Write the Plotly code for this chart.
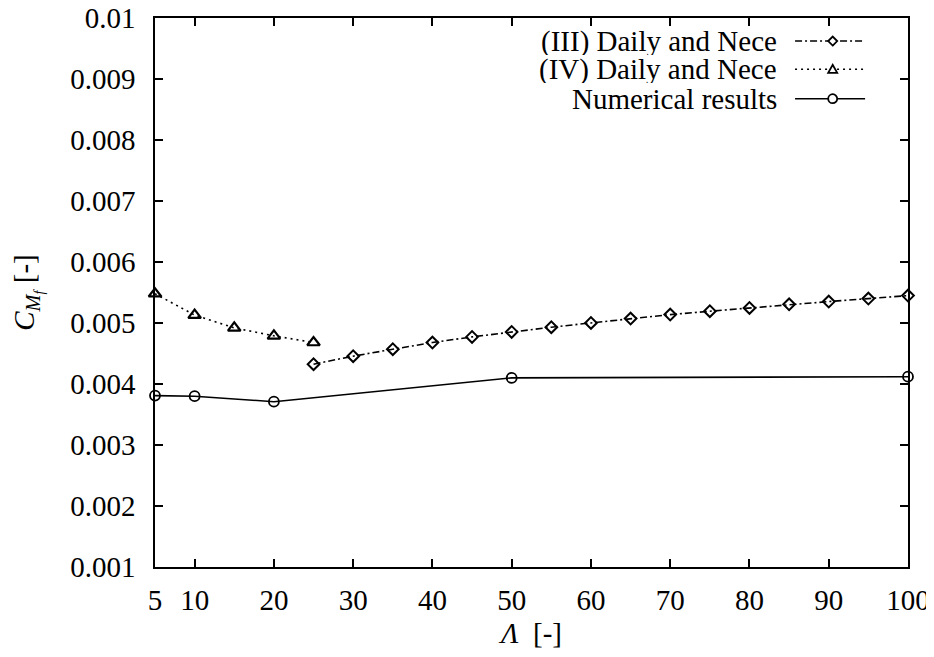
import plotly.graph_objects as go

# ---- data ----
lam_num = [5, 10, 20, 50, 100]
cm_num = [0.00381, 0.00380, 0.00371, 0.00410, 0.00412]

lam_iv = [5, 10, 15, 20, 25]
cm_iv = [0.00548, 0.00513, 0.00492, 0.00479, 0.00468]

lam_iii = [25, 30, 35, 40, 45, 50, 55, 60, 65, 70, 75, 80, 85, 90, 95, 100]
cm_iii = [0.004325, 0.004456, 0.00457, 0.00468, 0.004772, 0.004854, 0.004931,
          0.005001, 0.005073, 0.005138, 0.005193, 0.005247, 0.005307, 0.005351,
          0.005400, 0.005449]

x_ticks = [5, 10, 20, 30, 40, 50, 60, 70, 80, 90, 100]
y_ticks = [0.001, 0.002, 0.003, 0.004, 0.005, 0.006, 0.007, 0.008, 0.009, 0.010]
y_tick_text = ["0.001", "0.002", "0.003", "0.004", "0.005", "0.006", "0.007",
               "0.008", "0.009", "0.01"]

names = ["(III) Daily and Nece", "(IV) Daily and Nece", "Numerical results"]

FONT = "Liberation Serif, Times New Roman, serif"
FS = 29
DASH_III = "7px,3px,2px,3px"
DASH_IV = "2px,4px"

fig = go.Figure()
fig.add_trace(go.Scatter(x=lam_iii, y=cm_iii, mode="lines+markers", name=names[0],
                         line=dict(color="black", width=1.6, dash=DASH_III),
                         marker=dict(symbol="diamond-open", size=9, color="black",
                                     line=dict(width=2, color="black")),
                         cliponaxis=False, showlegend=False))
fig.add_trace(go.Scatter(x=lam_iv, y=cm_iv, mode="lines+markers", name=names[1],
                         line=dict(color="black", width=1.6, dash=DASH_IV),
                         marker=dict(symbol="triangle-up-open", size=11, color="black",
                                     line=dict(width=2.2, color="black")),
                         cliponaxis=False, showlegend=False))
fig.add_trace(go.Scatter(x=lam_num, y=cm_num, mode="lines+markers", name=names[2],
                         line=dict(color="black", width=1.6),
                         marker=dict(symbol="circle-open", size=10, color="black",
                                     line=dict(width=1.8, color="black")),
                         cliponaxis=False, showlegend=False))

# ---- custom legend (text left, key right, as in gnuplot) ----
rows_y = [0.958, 0.9066, 0.853]
dashes = [DASH_III, DASH_IV, "solid"]
paths = [
    "M 0,-4.5 L 4.5,0 L 0,4.5 L -4.5,0 Z",  # diamond
    "M -4.5,-3.5 L 4.5,-3.5 L 0,4.5 Z",     # triangle (pixel y points up)
    None,
]
for i, (ny, nm) in enumerate(zip(rows_y, names)):
    fig.add_annotation(x=0.829, y=ny, xref="paper", yref="paper", text=nm,
                       showarrow=False, xanchor="right", yanchor="middle",
                       height=27, valign="middle",
                       font=dict(family=FONT, size=FS, color="black"))
    fig.add_shape(type="line", xref="paper", yref="paper", x0=0.850, x1=0.943,
                  y0=ny, y1=ny, line=dict(color="black", width=1.5, dash=dashes[i]))
    if paths[i] is not None:
        fig.add_shape(type="path", xref="paper", yref="paper",
                      xsizemode="pixel", ysizemode="pixel", xanchor=0.900, yanchor=ny,
                      path=paths[i], fillcolor="white",
                      line=dict(color="black", width=1.8))
    else:
        fig.add_shape(type="circle", xref="paper", yref="paper",
                      xsizemode="pixel", ysizemode="pixel", xanchor=0.900, yanchor=ny,
                      x0=-4.5, x1=4.5, y0=-4.5, y1=4.5, fillcolor="white",
                      line=dict(color="black", width=1.8))

axis_common = dict(showline=True, linecolor="black", linewidth=1.5, mirror="ticks",
                   ticks="inside", ticklen=8, tickwidth=1.5, tickcolor="black",
                   showgrid=False, zeroline=False, automargin=False,
                   ticklabeloverflow="allow",
                   tickfont=dict(family=FONT, size=FS, color="black"))

fig.update_layout(
    width=934, height=657,
    margin=dict(l=147, r=34, t=10, b=98),
    plot_bgcolor="white", paper_bgcolor="white",
    font=dict(family=FONT, size=FS, color="black"),
    xaxis=dict(range=[5, 100], tickvals=x_ticks, ticktext=[str(v) for v in x_ticks],
               title=dict(text="<i>Λ</i>  [-]", font=dict(family=FONT, size=FS), standoff=8),
               ticklabelstandoff=6, **axis_common),
    yaxis=dict(range=[0.001, 0.010], tickvals=y_ticks, ticktext=y_tick_text,
               title=dict(text="<i>C</i><sub><i>M</i><sub><i>f</i></sub></sub> [-]",
                          font=dict(family=FONT, size=FS), standoff=30),
               ticklabelstandoff=12, **axis_common),
)

fig.write_html("out.html")
